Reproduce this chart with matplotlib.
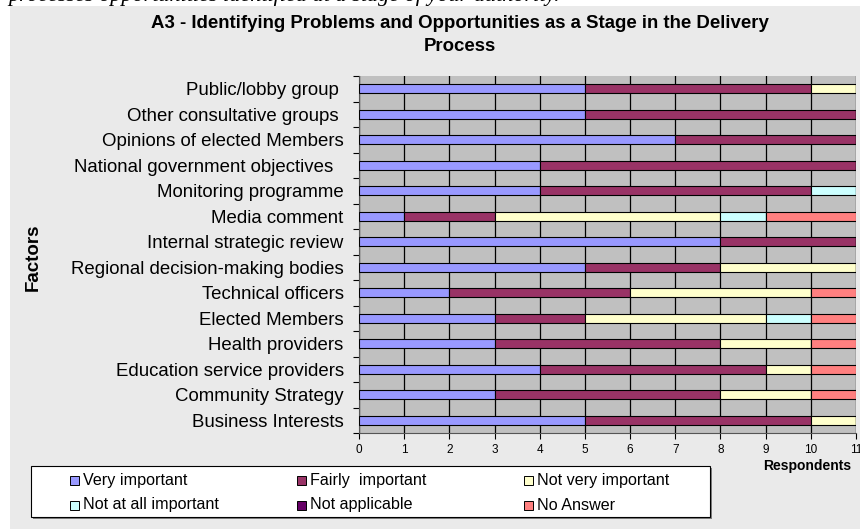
import numpy as np
import matplotlib.pyplot as plt
from matplotlib.patches import Rectangle

plt.rcParams['font.family'] = ['Liberation Sans', 'DejaVu Sans']

# Datos (de arriba hacia abajo, como en el grafico)
factores = ['Public/lobby group ', 'Other consultative groups ',
            'Opinions of elected Members', 'National government objectives  ',
            'Monitoring programme', 'Media comment', 'Internal strategic review',
            'Regional decision-making bodies', 'Technical officers',
            'Elected Members', 'Health providers', 'Education service providers',
            'Community Strategy', 'Business Interests']

categorias = ['Very important', 'Fairly  important', 'Not very important',
              'Not at all important', 'Not applicable', 'No Answer']

very_important = [5, 5, 7, 4, 4, 1, 8, 5, 2, 3, 3, 4, 3, 5]
fairly_important = [5, 6, 4, 7, 6, 2, 3, 3, 4, 2, 5, 5, 5, 5]
not_very_important = [1, 0, 0, 0, 0, 5, 0, 3, 4, 4, 2, 1, 2, 1]
not_at_all_important = [0, 0, 0, 0, 1, 1, 0, 0, 0, 1, 0, 0, 0, 0]
not_applicable = [0, 0, 0, 0, 0, 0, 0, 0, 0, 0, 0, 0, 0, 0]
no_answer = [0, 0, 0, 0, 0, 2, 0, 0, 1, 1, 1, 1, 1, 0]

series = [very_important, fairly_important, not_very_important,
          not_at_all_important, not_applicable, no_answer]
colores = ['#9999FF', '#993366', '#FFFFCC', '#CCFFFF', '#660066', '#FF8080']

W, H = 860, 529


def fx(px):
    return px / W


def fy(py):
    return 1 - py / H


fig = plt.figure(figsize=(8.6, 5.29), dpi=100)
fig.patch.set_facecolor('white')

# fondo gris del area del grafico
fig.patches.append(Rectangle((fx(10), 0), fx(850), 523 / H,
                             transform=fig.transFigure, facecolor='#EAEAEA',
                             edgecolor='none', zorder=-1))

# texto cortado del documento arriba
fig.text(fx(8), fy(1.5),
         'processes opportunities identified at a stage of your authority.',
         fontsize=16, style='italic', family=['Liberation Serif', 'DejaVu Serif'],
         va='baseline', ha='left', zorder=-2)

ax = fig.add_axes([fx(359), fy(433), fx(497), 357 / H])
ax.set_facecolor('#C0C0C0')

y = np.arange(len(factores))
left = np.zeros(len(factores))
for vals, col, lab in zip(series, colores, categorias):
    vals = np.array(vals)
    ax.barh(y, vals, left=left, height=0.37, color=col, edgecolor='black',
            linewidth=0.8, label=lab, zorder=3)
    left = left + vals

ax.set_xlim(0, 11)
ax.set_ylim(len(factores) - 0.5, -0.5)
ax.set_xticks(range(12))
ax.tick_params(axis='x', labelsize=8.5, length=4, width=0.8, pad=4)
ax.set_yticks(y)
ax.set_yticklabels(factores, fontsize=13.4)
ax.tick_params(axis='y', length=0, pad=11)
ax.set_yticks(np.arange(-0.5, len(factores), 1), minor=True)
ax.tick_params(axis='y', which='minor', length=4, width=0.8)
ax.grid(axis='x', color='black', linewidth=0.9, zorder=1)
ax.set_axisbelow(True)
for s in ['top', 'right']:
    ax.spines[s].set_visible(False)
for s in ['left', 'bottom']:
    ax.spines[s].set_color('#555555')

fig.text(fx(460), fy(35),
         'A3 - Identifying Problems and Opportunities as a Stage in the Delivery\nProcess',
         fontsize=13.4, fontweight='bold', ha='center', va='center', linespacing=1.4)
fig.text(fx(33), fy(257), 'Factors', fontsize=13.5, fontweight='bold',
         rotation=90, ha='center', va='center')
fig.text(fx(807), fy(466), 'Respondents', fontsize=10, fontweight='bold',
         ha='center', va='center')

# leyenda dibujada a mano (3 columnas, 2 filas como en Excel)
fig.patches.append(Rectangle((fx(33), fy(519)), fx(679), 51 / H,
                             transform=fig.transFigure, facecolor='#808080',
                             edgecolor='none', zorder=1))
fig.patches.append(Rectangle((fx(31), fy(517)), fx(679), 51 / H,
                             transform=fig.transFigure, facecolor='white',
                             edgecolor='black', linewidth=0.8, zorder=2))
col_x = [70, 297, 524]
row_y = [480, 505]
for i, (lab, col) in enumerate(zip(categorias, colores)):
    px = col_x[i % 3]
    py = row_y[i // 3]
    fig.patches.append(Rectangle((fx(px), fy(py + 4.5)), fx(9), 9 / H,
                                 transform=fig.transFigure, facecolor=col,
                                 edgecolor='black', linewidth=0.7, zorder=3))
    fig.text(fx(px + 13), fy(py), lab, fontsize=11.6, ha='left', va='center',
             zorder=4)

fig.savefig('out.png', dpi=100)
